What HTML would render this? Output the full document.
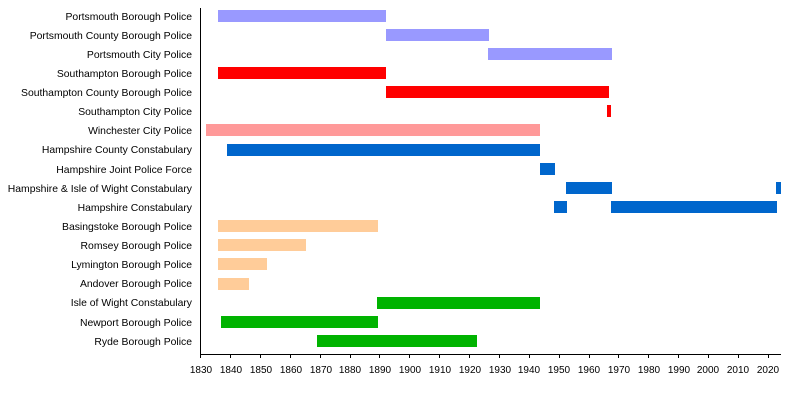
<!DOCTYPE html>
<html><head><style>body{margin:0;background:#fff}svg{display:block}text{font-family:"Liberation Sans",sans-serif;font-size:10px;fill:#000}.l text{font-size:10.4px}</style></head><body>
<svg width="800" height="400" xmlns="http://www.w3.org/2000/svg">
<g text-anchor="end" class="l">
<text x="192" y="20">Portsmouth Borough Police</text>
<text x="192" y="39">Portsmouth County Borough Police</text>
<text x="192" y="58">Portsmouth City Police</text>
<text x="192" y="77">Southampton Borough Police</text>
<text x="192" y="96">Southampton County Borough Police</text>
<text x="192" y="115">Southampton City Police</text>
<text x="192" y="134">Winchester City Police</text>
<text x="192" y="153">Hampshire County Constabulary</text>
<text x="192" y="173">Hampshire Joint Police Force</text>
<text x="192" y="192">Hampshire &amp; Isle of Wight Constabulary</text>
<text x="192" y="211">Hampshire Constabulary</text>
<text x="192" y="230">Basingstoke Borough Police</text>
<text x="192" y="249">Romsey Borough Police</text>
<text x="192" y="268">Lymington Borough Police</text>
<text x="192" y="287">Andover Borough Police</text>
<text x="192" y="306">Isle of Wight Constabulary</text>
<text x="192" y="326">Newport Borough Police</text>
<text x="192" y="345">Ryde Borough Police</text>
</g>
<g>
<rect x="218" y="10" width="168" height="12" fill="#9999ff"/>
<rect x="386" y="29" width="103" height="12" fill="#9999ff"/>
<rect x="488" y="48" width="124" height="12" fill="#9999ff"/>
<rect x="218" y="67" width="168" height="12" fill="#ff0000"/>
<rect x="386" y="86" width="223" height="12" fill="#ff0000"/>
<rect x="607" y="105" width="4" height="12" fill="#ff0000"/>
<rect x="206" y="124" width="334" height="12" fill="#ff9999"/>
<rect x="227" y="144" width="313" height="12" fill="#0066cc"/>
<rect x="540" y="163" width="15" height="12" fill="#0066cc"/>
<rect x="566" y="182" width="46" height="12" fill="#0066cc"/>
<rect x="776" y="182" width="5" height="12" fill="#0066cc"/>
<rect x="554" y="201" width="13" height="12" fill="#0066cc"/>
<rect x="611" y="201" width="166" height="12" fill="#0066cc"/>
<rect x="218" y="220" width="160" height="12" fill="#ffcc99"/>
<rect x="218" y="239" width="88" height="12" fill="#ffcc99"/>
<rect x="218" y="258" width="49" height="12" fill="#ffcc99"/>
<rect x="218" y="278" width="31" height="12" fill="#ffcc99"/>
<rect x="377" y="297" width="163" height="12" fill="#00b300"/>
<rect x="221" y="316" width="157" height="12" fill="#00b300"/>
<rect x="317" y="335" width="160" height="12" fill="#00b300"/>
</g>
<line x1="200.5" y1="8" x2="200.5" y2="354" stroke="#000"/>
<line x1="200" y1="354.5" x2="781" y2="354.5" stroke="#000"/>
<g stroke="#000">
<line x1="200.5" y1="354" x2="200.5" y2="358"/><line x1="230.5" y1="354" x2="230.5" y2="358"/><line x1="260.5" y1="354" x2="260.5" y2="358"/><line x1="290.5" y1="354" x2="290.5" y2="358"/><line x1="320.5" y1="354" x2="320.5" y2="358"/><line x1="350.5" y1="354" x2="350.5" y2="358"/><line x1="379.5" y1="354" x2="379.5" y2="358"/><line x1="409.5" y1="354" x2="409.5" y2="358"/><line x1="439.5" y1="354" x2="439.5" y2="358"/><line x1="469.5" y1="354" x2="469.5" y2="358"/><line x1="499.5" y1="354" x2="499.5" y2="358"/><line x1="529.5" y1="354" x2="529.5" y2="358"/><line x1="559.5" y1="354" x2="559.5" y2="358"/><line x1="589.5" y1="354" x2="589.5" y2="358"/><line x1="618.5" y1="354" x2="618.5" y2="358"/><line x1="648.5" y1="354" x2="648.5" y2="358"/><line x1="678.5" y1="354" x2="678.5" y2="358"/><line x1="708.5" y1="354" x2="708.5" y2="358"/><line x1="738.5" y1="354" x2="738.5" y2="358"/><line x1="768.5" y1="354" x2="768.5" y2="358"/>
</g>
<g text-anchor="middle">
<text x="201" y="373">1830</text><text x="231" y="373">1840</text><text x="261" y="373">1850</text><text x="291" y="373">1860</text><text x="321" y="373">1870</text><text x="350" y="373">1880</text><text x="380" y="373">1890</text><text x="410" y="373">1900</text><text x="440" y="373">1910</text><text x="470" y="373">1920</text><text x="500" y="373">1930</text><text x="529" y="373">1940</text><text x="559" y="373">1950</text><text x="589" y="373">1960</text><text x="619" y="373">1970</text><text x="649" y="373">1980</text><text x="679" y="373">1990</text><text x="708" y="373">2000</text><text x="738" y="373">2010</text><text x="768" y="373">2020</text>
</g>
</svg>
</body></html>
